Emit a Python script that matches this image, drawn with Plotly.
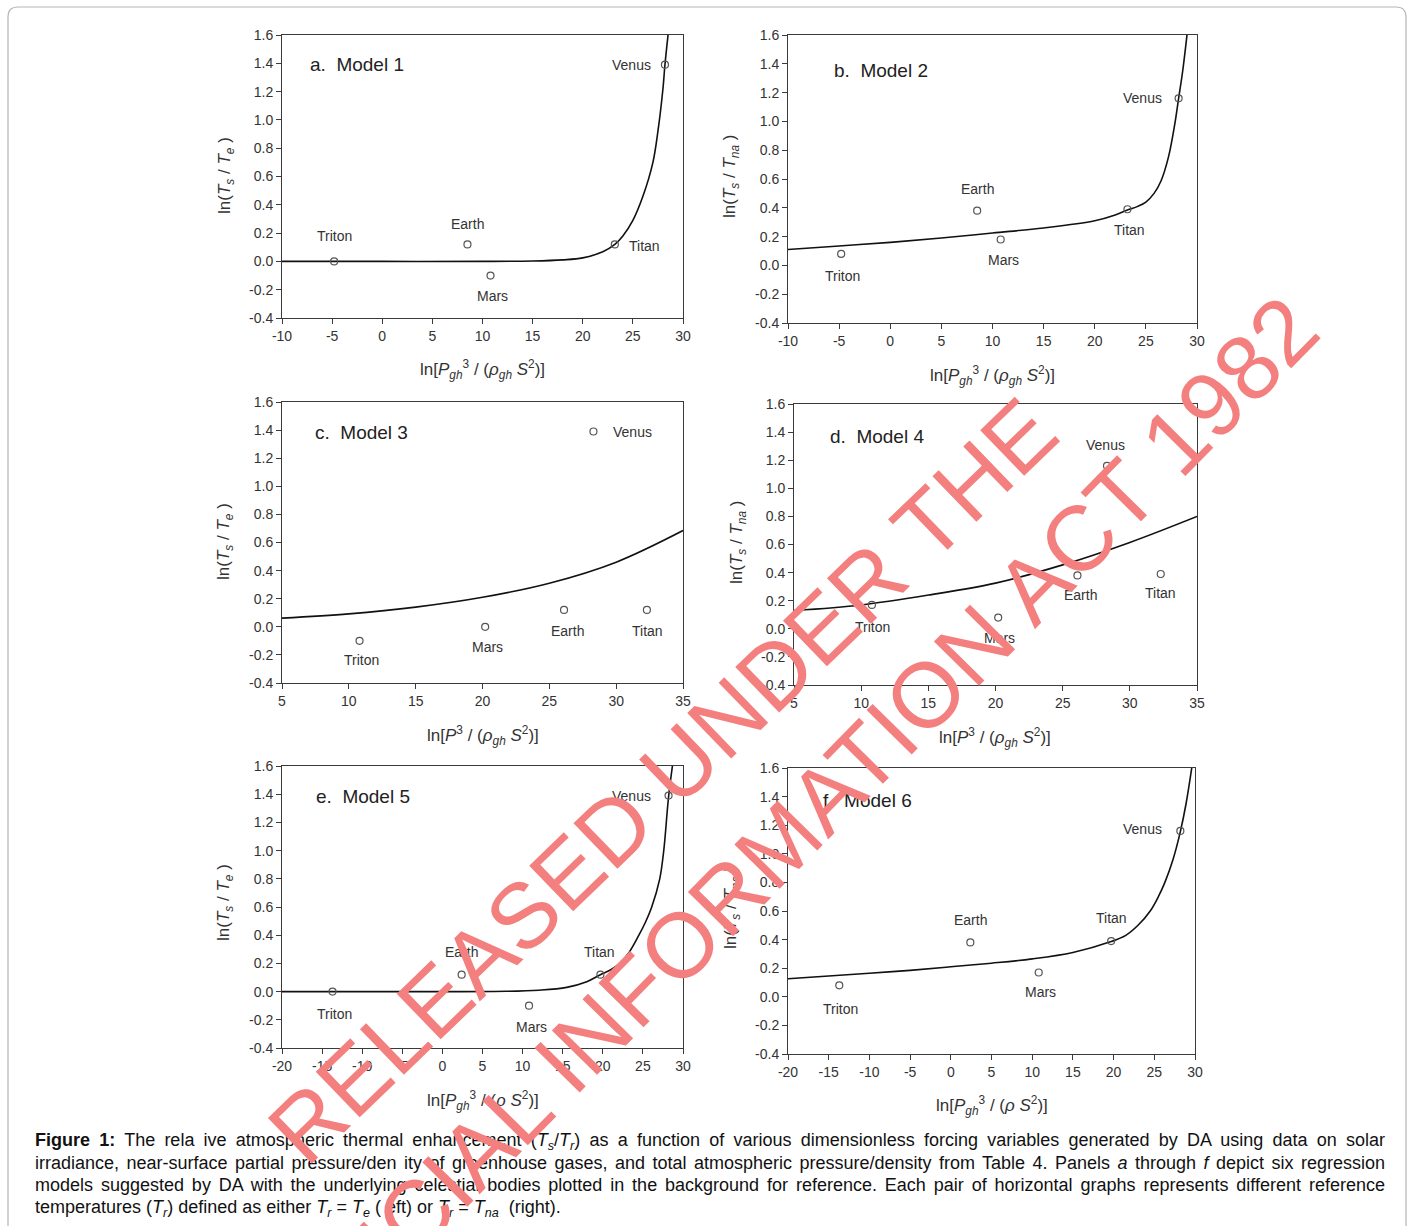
import plotly.graph_objects as go

W, H = 1413, 1226
FONT = "Liberation Sans, Arial, Helvetica, sans-serif"

# ---------------- data ----------------
bodies = ["Triton", "Earth", "Mars", "Titan", "Venus"]

# Panel a (Model 1)
a_x = [-4.8, 8.5, 10.8, 23.2, 28.2]
a_y = [0.0, 0.12, -0.10, 0.12, 1.39]
a_fit_x = [-10, 0, 10, 15, 18, 20, 22, 23.2, 24, 25, 26, 27, 27.5, 28, 28.2, 28.6]
a_fit_y = [0.0, 0.0, 0.0, 0.003, 0.011, 0.025, 0.068, 0.12, 0.18, 0.29, 0.46, 0.70, 0.92, 1.22, 1.39, 1.66]

# Panel b (Model 2)
b_x = [-4.8, 8.5, 10.8, 23.2, 28.2]
b_y = [0.08, 0.38, 0.18, 0.39, 1.16]
b_fit_x = [-10, -5, 0, 5, 10, 15, 20, 22, 23.2, 24.2, 25, 25.8, 26.5, 27.2, 27.8, 28.2, 28.6, 29.1]
b_fit_y = [0.11, 0.135, 0.16, 0.19, 0.225, 0.26, 0.31, 0.35, 0.385, 0.41, 0.44, 0.50, 0.59, 0.75, 0.97, 1.16, 1.35, 1.65]

# Panel c (Model 3)
c_x = [10.8, 26.1, 20.2, 32.3, 28.3]
c_y = [-0.10, 0.12, 0.0, 0.12, 1.39]
c_fit_x = [5, 10, 15, 20, 25, 30, 35]
c_fit_y = [0.062, 0.092, 0.14, 0.21, 0.31, 0.46, 0.685]

# Panel d (Model 4)
d_x = [10.8, 26.1, 20.2, 32.3, 28.3]
d_y = [0.17, 0.38, 0.08, 0.39, 1.16]
d_fit_x = [5, 10, 15, 20, 25, 30, 35]
d_fit_y = [0.13, 0.17, 0.24, 0.325, 0.455, 0.615, 0.80]

# Panel e (Model 5)
e_x = [-13.7, 2.4, 10.8, 19.7, 28.2]
e_y = [0.0, 0.12, -0.10, 0.12, 1.39]
e_fit_x = [-20, -10, 0, 8, 12, 15.5, 18, 19.7, 21, 22.1, 23.3, 24.5, 25.3, 26.1, 27.1, 27.6, 28.2, 28.8]
e_fit_y = [0.0, 0.0, 0.0, 0.002, 0.01, 0.03, 0.07, 0.12, 0.155, 0.20, 0.28, 0.40, 0.49, 0.60, 0.80, 1.00, 1.38, 1.65]

# Panel f (Model 6)
f_x = [-13.7, 2.4, 10.8, 19.7, 28.2]
f_y = [0.08, 0.38, 0.17, 0.39, 1.16]
f_fit_x = [-20, -15, -10, -5, 0, 5, 10, 15, 19.7, 21.5, 23, 24.5, 25.5, 26.3, 27.3, 28.2, 28.9, 29.6]
f_fit_y = [0.126, 0.145, 0.165, 0.185, 0.21, 0.235, 0.265, 0.31, 0.386, 0.43, 0.50, 0.60, 0.70, 0.80, 0.96, 1.155, 1.35, 1.60]

y_ticks = [-0.4, -0.2, 0.0, 0.2, 0.4, 0.6, 0.8, 1.0, 1.2, 1.4, 1.6]
y_tick_labels = ["-0.4", "-0.2", "0.0", "0.2", "0.4", "0.6", "0.8", "1.0", "1.2", "1.4", "1.6"]
x_ticks_a = [-10, -5, 0, 5, 10, 15, 20, 25, 30]
x_tick_labels_a = ["-10", "-5", "0", "5", "10", "15", "20", "25", "30"]
x_ticks_c = [5, 10, 15, 20, 25, 30, 35]
x_tick_labels_c = ["5", "10", "15", "20", "25", "30", "35"]
x_ticks_e = [-20, -15, -10, -5, 0, 5, 10, 15, 20, 25, 30]
x_tick_labels_e = ["-20", "-15", "-10", "-5", "0", "5", "10", "15", "20", "25", "30"]

yt_left = "ln(<i>T<sub>s</sub></i> / <i>T<sub>e</sub></i> )"
yt_right = "ln(<i>T<sub>s</sub></i> / <i>T<sub>na</sub></i> )"
xt_ab = "ln[<i>P<sub>gh</sub></i><sup>3</sup> / (<i>ρ<sub>gh</sub> S</i><sup>2</sup>)]"
xt_cd = "ln[<i>P</i><sup>3</sup> / (<i>ρ<sub>gh</sub> S</i><sup>2</sup>)]"
xt_ef = "ln[<i>P<sub>gh</sub></i><sup>3</sup> / (<i>ρ S</i><sup>2</sup>)]"

caption_lines = [
    "<b>Figure 1:</b> The rela ive atmospheric thermal enhancement (<i>T<sub>s</sub></i>/<i>T<sub>r</sub></i>) as a function of various dimensionless forcing variables generated by DA using data on solar",
    "irradiance, near-surface partial pressure/den ity of greenhouse gases, and total atmospheric pressure/density from Table 4. Panels <i>a</i> through <i>f</i> depict six regression",
    "models suggested by DA with the underlying celestial bodies plotted in the background for reference. Each pair of horizontal graphs represents different reference",
    "temperatures (<i>T<sub>r</sub></i>) defined as either <i>T<sub>r</sub></i> = <i>T<sub>e</sub></i> ( eft) or <i>T<sub>r</sub></i> = <i>T<sub>na</sub></i>  (right).",
]
watermark_lines = ["RELEASED UNDER THE", "OFFICIAL INFORMATION ACT 1982"]

# ---------------- layout helpers (reference pixel -> paper fraction) ----------------
def px(v):
    return v / W

def py(v):
    return 1 - v / H

panels = [
    dict(title="a.\u00a0 Model 1", x=a_x, y=a_y, fx=a_fit_x, fy=a_fit_y, box=(282, 683, 35, 318),
         xr=(-10, 30), xt=(x_ticks_a, x_tick_labels_a), ytitle=yt_left, xtitle=xt_ab,
         ytpos=(226, 176), xtpos=(482, 370), tpos=(0.065, 0.894),
         off=[(0, -25), (0, -20), (2, 20), (30, 2), (-33, 0)]),
    dict(title="b.\u00a0 Model 2", x=b_x, y=b_y, fx=b_fit_x, fy=b_fit_y, box=(788, 1197, 35, 323),
         xr=(-10, 30), xt=(x_ticks_a, x_tick_labels_a), ytitle=yt_right, xtitle=xt_ab,
         ytpos=(731, 177), xtpos=(992, 375), tpos=(0.107, 0.876),
         off=[(1, 22), (0, -22), (3, 21), (2, 21), (-36, 0)]),
    dict(title="c.\u00a0 Model 3", x=c_x, y=c_y, fx=c_fit_x, fy=c_fit_y, box=(282, 683, 402, 683),
         xr=(5, 35), xt=(x_ticks_c, x_tick_labels_c), ytitle=yt_left, xtitle=xt_cd,
         ytpos=(225, 542), xtpos=(483, 735), tpos=(0.077, 0.891),
         off=[(2, 19), (3, 21), (2, 20), (1, 21), (39, 0)]),
    dict(title="d.\u00a0 Model 4", x=d_x, y=d_y, fx=d_fit_x, fy=d_fit_y, box=(794, 1197, 404, 685),
         xr=(5, 35), xt=(x_ticks_c, x_tick_labels_c), ytitle=yt_right, xtitle=xt_cd,
         ytpos=(738, 543), xtpos=(995, 737), tpos=(0.085, 0.884),
         off=[(1, 22), (3, 20), (1, 20), (0, 19), (-2, -21)]),
    dict(title="e.\u00a0 Model 5", x=e_x, y=e_y, fx=e_fit_x, fy=e_fit_y, box=(282, 683, 766, 1048),
         xr=(-20, 30), xt=(x_ticks_e, x_tick_labels_e), ytitle=yt_left, xtitle=xt_ef,
         ytpos=(225, 903), xtpos=(483, 1100), tpos=(0.08, 0.891),
         off=[(2, 22), (0, -23), (2, 21), (-1, -23), (-37, 0)]),
    dict(title="f.\u00a0 Model 6", x=f_x, y=f_y, fx=f_fit_x, fy=f_fit_y, box=(788, 1195, 768, 1054),
         xr=(-20, 30), xt=(x_ticks_e, x_tick_labels_e), ytitle=yt_right, xtitle=xt_ef,
         ytpos=(732, 908), xtpos=(992, 1105), tpos=(0.08, 0.885),
         off=[(1, 24), (0, -22), (2, 20), (0, -23), (-38, -2)]),
]

fig = go.Figure()
annotations = []
layout = {}
TICKC = "#333333"
LINEC = "#3a3a3a"

for i, p in enumerate(panels, start=1):
    sx = "" if i == 1 else str(i)
    xa, ya = "x" + sx, "y" + sx
    l, r, t, b = p["box"]
    layout["xaxis" + sx] = dict(
        domain=[px(l), px(r)], anchor=ya, range=list(p["xr"]), automargin=False,
        tickvals=p["xt"][0], ticktext=p["xt"][1], ticks="outside", ticklen=5, tickwidth=1,
        tickcolor=LINEC, showline=True, linecolor=LINEC, linewidth=1, mirror=True,
        showgrid=False, zeroline=False, tickfont=dict(size=14, color=TICKC, family=FONT),
        fixedrange=True)
    layout["yaxis" + sx] = dict(
        domain=[py(b), py(t)], anchor=xa, range=[-0.4, 1.6], automargin=False,
        tickvals=y_ticks, ticktext=y_tick_labels, ticks="outside", ticklen=5, tickwidth=1,
        tickcolor=LINEC, showline=True, linecolor=LINEC, linewidth=1, mirror=True,
        showgrid=False, zeroline=False, tickfont=dict(size=14, color=TICKC, family=FONT),
        fixedrange=True)

    fig.add_trace(go.Scatter(x=p["fx"], y=p["fy"], mode="lines", xaxis=xa, yaxis=ya,
                             line=dict(color="#111111", width=1.6, shape="spline", smoothing=1.0),
                             showlegend=False, hoverinfo="skip"))
    fig.add_trace(go.Scatter(x=p["x"], y=p["y"], mode="markers", xaxis=xa, yaxis=ya,
                             marker=dict(symbol="circle-open", size=7, color="#555555",
                                         line=dict(width=1.2, color="#555555")),
                             showlegend=False, text=bodies))

    for name, xv, yv, (dx, dy) in zip(bodies, p["x"], p["y"], p["off"]):
        annotations.append(dict(x=xv, y=yv, xref=xa, yref=ya, text=name, showarrow=False,
                                xshift=dx, yshift=-dy, xanchor="center", yanchor="middle",
                                font=dict(size=14, color="#333333", family=FONT)))
    annotations.append(dict(x=p["tpos"][0], y=p["tpos"][1], xref=xa + " domain", yref=ya + " domain",
                            text=p["title"], showarrow=False, xanchor="left", yanchor="middle",
                            font=dict(size=19, color="#222222", family=FONT)))
    annotations.append(dict(x=px(p["ytpos"][0]), y=py(p["ytpos"][1]), xref="paper", yref="paper",
                            text=p["ytitle"], showarrow=False, textangle=-90,
                            xanchor="center", yanchor="middle",
                            font=dict(size=17, color="#333333", family=FONT)))
    annotations.append(dict(x=px(p["xtpos"][0]), y=py(p["xtpos"][1]), xref="paper", yref="paper",
                            text=p["xtitle"], showarrow=False, xanchor="center", yanchor="middle",
                            font=dict(size=17, color="#333333", family=FONT)))

# caption
cap_y = [1141, 1163, 1185, 1208]
for line, yy in zip(caption_lines, cap_y):
    annotations.append(dict(x=px(33), y=py(yy), xref="paper", yref="paper", text=line,
                            showarrow=False, xanchor="left", yanchor="middle", align="left",
                            font=dict(size=18, color="#111111", family=FONT)))

# watermark
wm_pos = [((662, 781), -44), ((773, 850), -45.5)]
for txt, ((cx, cy), ang) in zip(watermark_lines, wm_pos):
    annotations.append(dict(x=px(cx), y=py(cy), xref="paper", yref="paper", text=txt,
                            showarrow=False, textangle=ang, xanchor="center", yanchor="middle",
                            font=dict(size=92, color="#F47F7F", family=FONT)))

# rounded page border
border = (f"M {px(18)},{py(7)} L {px(1396)},{py(7)} Q {px(1406)},{py(7)} {px(1406)},{py(17)} "
          f"L {px(1406)},{py(1240)} L {px(8)},{py(1240)} L {px(8)},{py(17)} "
          f"Q {px(8)},{py(7)} {px(18)},{py(7)} Z")
shapes = [dict(type="path", path=border, xref="paper", yref="paper",
               line=dict(color="#b5b5b5", width=1.2), layer="below")]

fig.update_layout(
    width=W, height=H, margin=dict(l=0, r=0, t=0, b=0, autoexpand=False),
    paper_bgcolor="white", plot_bgcolor="white",
    font=dict(family=FONT, color="#333333"),
    annotations=annotations, shapes=shapes, showlegend=False, **layout)

# remove the page margin and justify the first three caption lines (width 1350 px, as in the reference)
post = """
document.body.style.margin = '0';
document.body.style.overflow = 'hidden';
var starts = ['Figure 1', 'irradiance', 'models suggested'];
document.querySelectorAll('g.annotation text.annotation-text').forEach(function (t) {
  var s = t.textContent;
  for (var k = 0; k < starts.length; k++) {
    if (s.indexOf(starts[k]) === 0) {
      var n = (s.match(/ /g) || []).length;
      var w = t.getComputedTextLength();
      if (n > 0 && w < 1350) { t.style.wordSpacing = ((1350 - w) / n) + 'px'; }
    }
  }
});
"""
fig.write_html("out.html", post_script=post, config={"displayModeBar": False})
